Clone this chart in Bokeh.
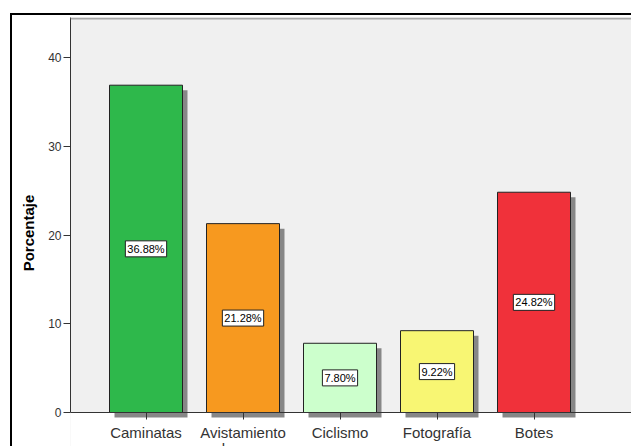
from bokeh.plotting import figure
from bokeh.models import (ColumnDataSource, FixedTicker, Range1d,
                          Span, BoxAnnotation)
from bokeh.core.properties import value
from bokeh.embed import file_html
from bokeh.resources import INLINE

categories = ["Caminatas", "Avistamiento\nde aves", "Ciclismo", "Fotografía", "Botes"]
percentages = [36.88, 21.28, 7.80, 9.22, 24.82]
colors = ["#2eb84b", "#f7991f", "#ccffcc", "#f8f673", "#f0313a"]
y_ticks = [0, 10, 20, 30, 40]

positions = list(range(1, len(categories) + 1))

PX_X = 97.0      # pixels per category slot
PX_Y = 8.875     # pixels per percent
W, H = 621, 433
LEFT, TOP = 58, 2
frame_w = W - LEFT
frame_h = H - TOP
x0 = 1 - 75.5 / PX_X
y_top = 395 / PX_Y
y_bot = y_top - frame_h / PX_Y

p = figure(width=W, height=H, output_backend="svg", toolbar_location=None,
           x_range=Range1d(x0, x0 + frame_w / PX_X),
           y_range=Range1d(y_bot, y_top),
           min_border_left=LEFT, min_border_right=0,
           min_border_top=TOP, min_border_bottom=0)
p.styles = {"margin-left": "10px", "margin-top": "13px",
            "border-left": "2px solid black", "border-top": "2px solid black"}

p.background_fill_color = "#f0f0f0"
p.border_fill_color = "white"
p.outline_line_color = None
p.xgrid.visible = False
p.ygrid.visible = False

# white area below the zero line
p.add_layout(BoxAnnotation(top=0, fill_color="white", fill_alpha=1.0,
                           line_color=None, level="underlay"))
# top edge of plot area
p.add_layout(Span(location=y_top - 1 / PX_Y, dimension="width",
                  line_color="#a8a8a8", line_width=2))

bw = 73 / PX_X
off_x = 5 / PX_X
off_y = 5 / PX_Y
src = ColumnDataSource(dict(
    x=positions,
    top=percentages,
    color=colors,
    sx=[x + off_x for x in positions],
    stop=[v - off_y for v in percentages],
    ly=[v / 2 for v in percentages],
    lbl=[f"{v:.2f}%" for v in percentages],
))

p.vbar(x="sx", top="stop", bottom=-off_y, width=bw, source=src,
       fill_color="#878787", line_color=None)
p.vbar(x="x", top="top", bottom=0, width=bw, source=src,
       fill_color="color", line_color="#222222", line_width=1)

p.text(x="x", y="ly", text="lbl", source=src,
       text_align="center", text_baseline="middle",
       text_font=value("Liberation Sans"), text_font_size="11px",
       text_color="black",
       background_fill_color="white", background_fill_alpha=1.0,
       border_line_color="#222222", border_line_width=1,
       padding=2)

# y axis
ya = p.yaxis[0]
ya.ticker = FixedTicker(ticks=y_ticks)
ya.bounds = (0, y_top)
ya.axis_label = "Porcentaje"
ya.axis_label_text_font = "Liberation Sans"
ya.axis_label_text_font_style = "bold"
ya.axis_label_text_font_size = "15px"
ya.axis_label_text_color = "black"
ya.axis_label_standoff = 8
ya.major_label_text_font = "Liberation Sans"
ya.major_label_text_font_size = "12px"
ya.major_label_text_color = "#333333"
ya.major_label_standoff = 2
ya.axis_line_color = "#333333"
ya.major_tick_line_color = "#333333"
ya.major_tick_out = 7
ya.major_tick_in = 0
ya.minor_tick_line_color = None

# x axis at zero
xa = p.xaxis[0]
xa.fixed_location = 0
xa.ticker = FixedTicker(ticks=positions)
xa.major_label_overrides = {x: c for x, c in zip(positions, categories)}
xa.major_label_text_font = "Liberation Sans"
xa.major_label_text_font_size = "15px"
xa.major_label_text_line_height = 0.95
xa.major_label_text_color = "#333333"
xa.major_label_standoff = 4
xa.axis_line_color = "#333333"
xa.major_tick_line_color = "#333333"
xa.major_tick_out = 7
xa.major_tick_in = 0
xa.minor_tick_line_color = None

open("out.html", "w").write(file_html(p, INLINE))
